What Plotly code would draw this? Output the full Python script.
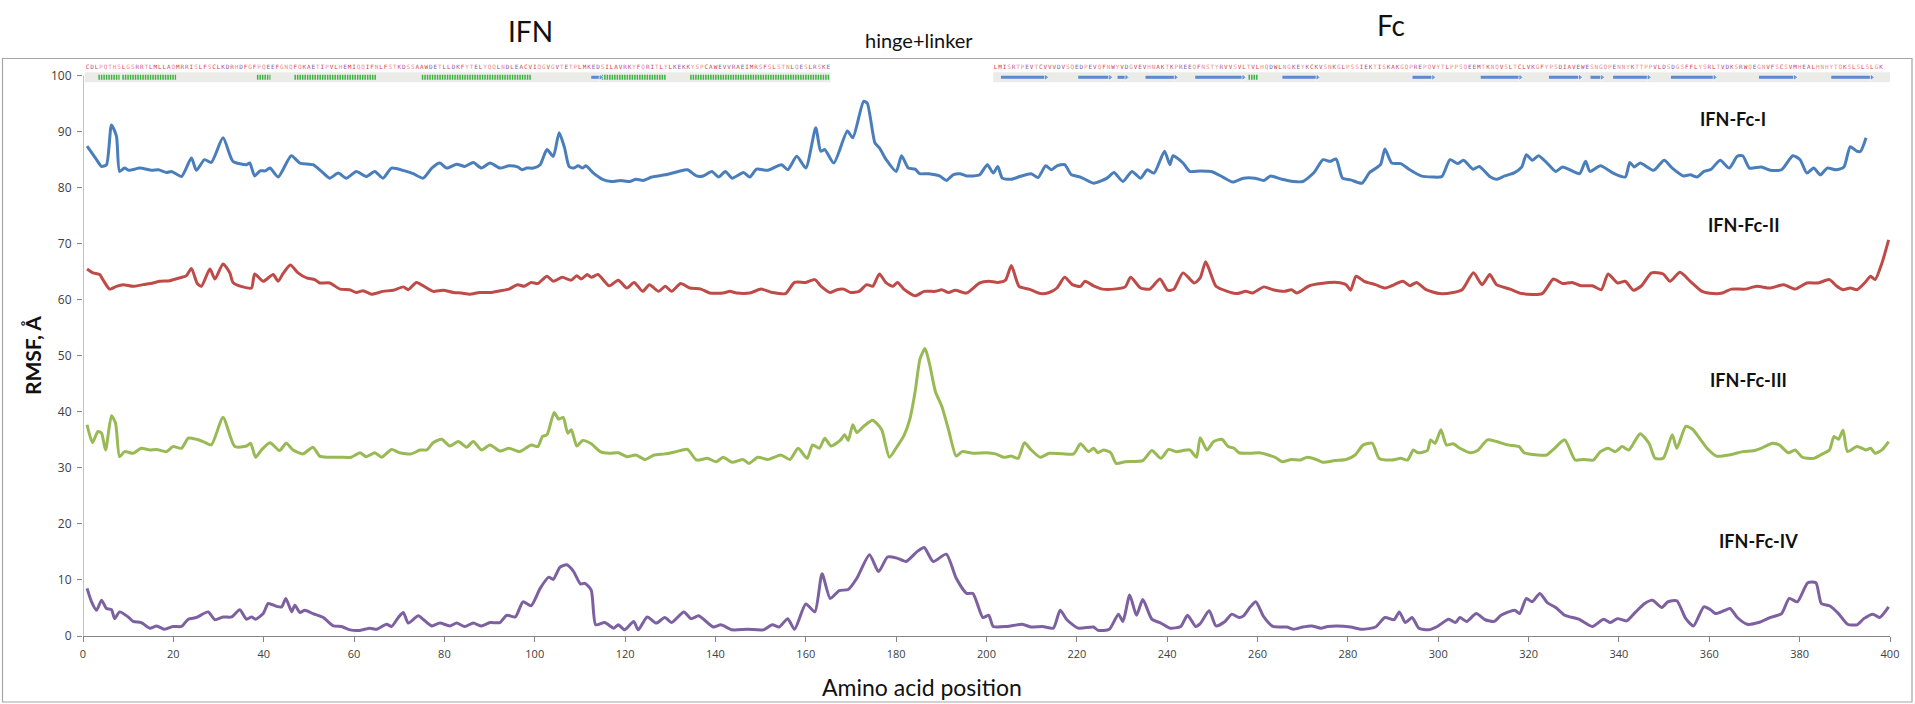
import plotly.graph_objects as go

# ---------------------------------------------------------------------------
# RMSF profiles (amino-acid position, RMSF in Å) for the four constructs.
# Each curve is offset vertically so the four traces can be stacked.
# ---------------------------------------------------------------------------
ifn_fc_i = [
    (0.9, 87.4), (3.0, 85.0), (4.1, 83.8), (5.2, 84.1), (6.3, 91.2), (7.4, 89.2), (8.1, 82.9),
    (9.2, 83.5), (10.2, 83.1), (12.6, 83.5), (15.2, 83.1), (16.7, 83.2), (18.5, 82.7), (19.6, 82.9),
    (21.8, 82.0), (24.0, 85.3), (25.1, 83.1), (26.9, 85.0), (28.4, 84.5), (31.0, 88.9), (33.2, 84.7),
    (36.2, 84.1), (36.9, 84.4), (38.0, 82.1), (39.2, 83.0), (40.3, 83.0), (41.4, 83.5), (43.2, 81.9),
    (46.1, 85.7), (48.0, 84.4), (50.9, 84.1), (52.8, 82.9), (54.6, 81.7), (56.5, 82.6), (58.3, 81.7),
    (60.5, 82.9), (62.7, 82.0), (64.6, 82.9), (66.4, 81.7), (68.3, 83.5), (71.2, 83.0), (73.1, 82.5),
    (75.3, 81.7), (77.2, 83.5), (79.0, 84.4), (80.5, 83.5), (82.7, 84.2), (84.5, 83.8), (86.4, 84.5),
    (88.2, 83.5), (90.1, 84.4), (92.3, 83.5), (94.3, 83.9), (96.2, 83.7), (97.2, 83.2), (98.2, 83.5),
    (99.7, 83.5), (101.2, 84.1), (102.7, 86.8), (104.1, 85.6), (105.4, 89.8), (106.6, 87.1),
    (107.6, 83.8), (108.6, 83.5), (109.6, 83.9), (110.6, 83.5), (111.3, 83.9), (113.0, 82.6),
    (115.0, 81.5), (117.0, 81.1), (119.0, 81.3), (121.0, 81.1), (122.4, 81.5), (124.0, 81.3),
    (125.9, 81.9), (128.9, 82.3), (131.8, 82.9), (133.8, 83.2), (135.8, 82.1), (137.3, 82.1),
    (139.2, 82.9), (140.7, 81.9), (142.2, 82.9), (143.7, 81.7), (146.2, 82.7), (147.6, 81.9),
    (149.1, 83.3), (151.6, 83.1), (154.6, 84.1), (156.0, 83.2), (158.0, 85.6), (160.0, 83.5),
    (162.2, 90.7), (163.3, 86.5), (164.2, 86.8), (166.2, 84.4), (169.2, 90.1), (170.4, 88.9),
    (172.8, 95.4), (173.6, 95.1), (175.3, 88.0), (176.3, 87.1), (177.8, 85.0), (180.0, 82.9),
    (181.2, 85.7), (182.7, 83.5), (184.2, 83.3), (185.2, 82.5), (187.2, 82.5), (189.6, 82.1),
    (191.1, 81.3), (192.6, 82.3), (194.1, 82.5), (195.6, 82.1), (197.0, 82.1), (198.5, 82.3),
    (200.2, 84.1), (201.5, 82.6), (202.5, 83.8), (203.5, 81.7), (205.5, 81.5), (207.4, 82.0),
    (209.9, 82.5), (211.4, 81.8), (213.1, 83.9), (214.4, 83.2), (215.6, 83.9), (217.3, 84.1),
    (218.8, 82.3), (220.8, 81.9), (223.7, 80.8), (226.7, 81.7), (228.2, 82.7), (230.2, 81.1),
    (232.2, 82.9), (234.1, 81.7), (235.6, 83.2), (237.1, 82.6), (239.4, 86.5), (240.6, 84.1),
    (241.3, 85.7), (243.5, 84.4), (245.0, 82.9), (247.3, 83.0), (249.8, 82.9), (252.3, 81.9),
    (254.5, 81.0), (256.9, 81.7), (259.4, 81.7), (261.4, 81.3), (262.9, 82.1), (265.4, 81.5),
    (268.0, 81.1), (270.0, 81.1), (272.5, 82.7), (274.5, 85.0), (276.0, 84.7), (277.4, 85.1),
    (278.8, 81.7), (280.6, 81.4), (283.1, 80.8), (284.8, 82.7), (287.2, 84.1), (288.2, 86.9),
    (289.7, 84.4), (291.7, 84.3), (293.7, 83.2), (296.2, 82.1), (298.8, 81.9), (300.8, 82.0),
    (302.6, 85.0), (304.3, 84.3), (305.6, 84.9), (307.7, 83.3), (309.1, 83.8), (311.4, 82.0),
    (312.9, 81.5), (314.7, 82.1), (316.9, 82.7), (318.5, 83.7), (319.5, 85.9), (320.8, 84.9),
    (322.2, 85.7), (324.2, 84.3), (326.0, 82.9), (327.5, 83.7), (329.1, 83.2), (331.3, 82.5),
    (332.6, 84.7), (333.6, 82.9), (335.9, 83.9), (338.7, 82.6), (341.4, 81.9), (342.4, 84.5),
    (343.4, 83.7), (344.7, 84.4), (347.7, 83.1), (350.0, 84.9), (351.8, 83.5), (354.3, 82.1),
    (355.8, 82.3), (357.3, 81.9), (358.8, 82.9), (360.4, 83.3), (362.4, 84.9), (364.4, 83.5),
    (366.2, 85.6), (367.4, 85.7), (368.9, 83.5), (371.5, 83.7), (373.5, 83.1), (376.0, 83.2),
    (378.5, 85.7), (380.1, 85.0), (381.6, 82.6), (383.1, 83.5), (384.6, 82.3), (386.1, 83.5),
    (388.1, 83.2), (389.8, 83.7), (391.2, 87.3), (392.7, 86.5), (393.5, 86.5), (394.7, 88.9),
]

ifn_fc_ii = [
    (0.9, 65.5), (2.2, 64.8), (3.7, 64.5), (4.4, 63.6), (5.9, 61.9), (7.4, 62.4), (8.9, 62.7),
    (11.1, 62.4), (13.3, 62.7), (15.5, 63.0), (17.0, 63.3), (19.2, 63.4), (21.4, 63.9), (22.9, 64.3),
    (24.0, 65.6), (25.3, 62.9), (26.2, 62.4), (28.1, 65.5), (29.2, 63.7), (31.0, 66.4), (32.5, 64.8),
    (33.2, 63.1), (35.4, 62.3), (37.3, 62.1), (38.0, 64.6), (39.9, 63.3), (42.1, 64.5), (43.2, 63.3),
    (44.3, 64.7), (45.9, 66.2), (47.6, 64.8), (49.5, 63.9), (51.3, 63.6), (52.4, 63.0), (54.6, 63.0),
    (56.9, 61.9), (59.0, 61.8), (60.5, 61.3), (62.0, 61.6), (63.9, 61.0), (66.4, 61.5), (68.7, 61.7),
    (70.9, 62.3), (72.0, 61.8), (73.8, 63.1), (76.1, 62.1), (77.5, 61.5), (79.7, 61.7), (82.0, 61.3),
    (83.8, 61.2), (85.6, 61.0), (87.8, 61.3), (90.1, 61.3), (92.3, 61.6), (94.3, 61.9), (96.2, 62.7),
    (97.7, 62.4), (99.2, 63.1), (100.7, 62.9), (102.7, 64.2), (104.1, 63.3), (106.1, 64.0),
    (108.1, 63.5), (109.3, 64.3), (110.3, 63.7), (111.6, 64.5), (112.5, 64.0), (114.0, 64.5),
    (116.5, 62.5), (118.5, 63.5), (120.4, 62.1), (122.0, 63.1), (123.9, 61.5), (125.4, 62.7),
    (127.4, 61.5), (128.9, 62.4), (130.3, 61.5), (132.3, 62.9), (134.3, 62.1), (136.8, 61.9),
    (138.7, 61.2), (141.7, 61.2), (143.2, 61.5), (144.7, 61.2), (147.6, 61.2), (150.1, 61.9),
    (152.6, 61.3), (155.5, 61.1), (157.5, 63.1), (160.0, 63.1), (162.0, 63.6), (163.4, 62.4),
    (165.4, 61.3), (166.9, 61.8), (168.4, 61.9), (169.9, 61.3), (171.8, 61.5), (173.5, 62.7),
    (174.8, 62.4), (176.3, 64.6), (177.8, 63.0), (179.3, 62.4), (180.3, 63.1), (181.7, 61.9),
    (184.2, 60.7), (186.2, 61.5), (188.7, 61.5), (190.1, 61.8), (191.6, 61.3), (193.1, 61.7),
    (195.6, 61.2), (198.5, 63.0), (200.5, 63.3), (202.5, 63.1), (204.2, 63.5), (205.5, 66.1),
    (207.2, 62.4), (209.4, 61.9), (211.9, 61.1), (213.9, 61.3), (215.6, 62.1), (217.3, 64.0),
    (219.0, 62.7), (220.8, 62.4), (221.8, 63.3), (223.7, 62.5), (225.7, 61.9), (228.2, 61.9),
    (230.7, 62.3), (231.9, 64.0), (234.1, 62.1), (236.1, 61.9), (238.4, 63.7), (240.1, 61.7),
    (241.5, 61.9), (243.5, 64.8), (246.0, 63.0), (247.3, 63.9), (248.5, 66.8), (249.3, 65.4),
    (250.8, 62.4), (253.3, 61.5), (255.4, 61.1), (257.4, 61.5), (258.9, 61.2), (261.4, 62.3),
    (263.4, 61.8), (266.0, 61.5), (267.5, 61.8), (268.7, 61.2), (271.5, 62.5), (274.0, 62.9),
    (277.6, 63.1), (279.6, 62.7), (280.6, 61.7), (281.8, 64.2), (283.6, 63.3), (286.1, 62.7),
    (288.2, 62.1), (289.7, 62.5), (292.2, 63.3), (293.7, 62.5), (295.2, 63.1), (297.3, 61.8),
    (300.3, 61.1), (303.3, 61.3), (305.3, 61.8), (307.8, 64.8), (309.7, 62.7), (311.4, 64.5),
    (312.9, 62.7), (315.9, 61.9), (318.5, 61.1), (323.0, 61.1), (325.5, 63.7), (327.5, 62.9),
    (329.6, 63.1), (331.6, 62.5), (334.1, 62.5), (336.1, 61.8), (337.6, 64.6), (339.7, 63.0),
    (341.4, 63.3), (343.2, 61.7), (345.0, 62.5), (347.2, 64.8), (349.8, 64.6), (351.3, 63.3),
    (353.5, 64.9), (355.8, 63.3), (358.4, 61.5), (360.9, 61.1), (362.9, 61.2), (364.9, 61.9),
    (367.9, 61.9), (370.5, 62.4), (373.5, 62.1), (376.5, 62.7), (379.0, 61.9), (381.6, 63.0),
    (384.1, 63.0), (386.6, 63.6), (388.1, 62.5), (389.6, 61.8), (391.2, 62.1), (392.7, 61.8),
    (394.7, 63.3), (395.7, 64.2), (396.7, 63.6), (398.2, 66.5), (399.7, 70.7),
]

ifn_fc_iii = [
    (0.9, 37.7), (2.1, 34.5), (3.3, 36.5), (4.1, 36.2), (5.0, 33.2), (6.3, 39.3), (7.2, 38.0),
    (8.1, 32.0), (9.2, 32.9), (11.1, 32.6), (12.9, 33.5), (14.8, 33.2), (16.3, 33.3), (18.5, 32.9),
    (19.9, 33.8), (21.8, 33.5), (23.3, 35.3), (25.1, 35.1), (26.6, 34.7), (28.4, 34.1), (31.0, 39.0),
    (33.6, 33.8), (36.2, 33.9), (37.1, 34.4), (38.2, 31.9), (39.5, 33.2), (41.4, 34.5), (43.5, 33.1),
    (45.0, 34.4), (46.5, 33.2), (48.7, 32.5), (50.9, 33.7), (52.4, 32.1), (54.2, 31.9), (56.9, 31.9),
    (59.4, 31.9), (61.3, 32.7), (62.7, 32.0), (64.6, 32.7), (66.1, 31.9), (68.3, 33.3), (70.1, 32.7),
    (72.7, 32.5), (74.6, 33.2), (76.1, 33.2), (77.5, 34.5), (79.4, 35.1), (81.2, 33.9), (83.1, 34.7),
    (84.9, 33.7), (86.4, 34.7), (88.2, 33.2), (90.1, 34.1), (92.3, 33.0), (94.3, 33.5), (96.7, 32.9),
    (99.2, 34.1), (100.7, 33.8), (101.7, 35.6), (102.7, 35.9), (104.3, 39.9), (105.3, 38.7),
    (106.3, 39.0), (107.3, 36.2), (108.1, 36.8), (109.3, 33.9), (110.6, 34.9), (112.5, 34.3),
    (114.5, 32.9), (116.5, 32.6), (118.5, 32.7), (120.4, 32.0), (122.4, 32.3), (124.4, 31.5),
    (126.4, 32.3), (128.8, 32.5), (131.3, 32.9), (133.8, 33.3), (135.8, 31.4), (138.2, 31.7),
    (140.2, 31.1), (141.7, 31.9), (143.7, 31.0), (146.1, 31.5), (147.4, 30.8), (149.4, 31.9),
    (151.6, 31.5), (154.5, 32.3), (156.5, 31.5), (158.3, 33.5), (160.3, 31.7), (161.5, 34.1),
    (163.0, 33.5), (164.2, 35.3), (165.6, 33.9), (167.6, 34.9), (168.6, 35.9), (169.4, 34.9),
    (170.4, 37.7), (171.3, 36.3), (172.8, 37.4), (174.8, 38.5), (176.8, 36.8), (178.5, 31.9),
    (180.2, 33.8), (181.7, 35.7), (183.0, 38.6), (184.2, 43.6), (185.3, 49.5), (186.4, 51.3),
    (187.4, 48.5), (188.7, 43.6), (190.1, 41.0), (191.6, 36.8), (193.3, 32.1), (194.6, 32.9),
    (197.0, 32.6), (200.0, 32.7), (202.0, 32.5), (203.8, 31.9), (205.5, 32.1), (207.0, 31.7),
    (208.4, 34.5), (209.9, 33.2), (211.9, 31.9), (213.9, 32.6), (216.8, 32.5), (219.3, 32.5),
    (220.8, 34.3), (222.6, 32.9), (223.7, 33.5), (224.7, 32.7), (225.9, 33.2), (227.5, 32.7),
    (228.7, 30.8), (230.7, 31.1), (234.6, 31.3), (236.6, 33.1), (238.6, 31.7), (240.3, 33.3),
    (242.0, 32.9), (243.5, 33.1), (245.0, 33.2), (246.5, 31.9), (247.3, 35.4), (248.8, 33.2),
    (250.3, 34.7), (252.1, 35.1), (253.5, 33.8), (254.8, 33.5), (255.9, 32.7), (258.4, 32.6),
    (260.4, 32.7), (262.4, 32.3), (263.9, 31.9), (265.4, 31.1), (267.5, 31.5), (269.5, 31.4),
    (271.0, 31.9), (273.0, 31.5), (274.5, 31.0), (277.1, 31.3), (279.6, 31.5), (281.6, 32.3),
    (283.4, 34.1), (285.4, 34.4), (286.9, 31.7), (289.7, 31.4), (291.7, 31.7), (293.2, 31.4),
    (294.5, 33.2), (295.5, 32.7), (297.6, 33.1), (298.3, 35.0), (299.3, 34.4), (300.6, 36.8),
    (301.8, 34.1), (303.3, 34.3), (304.8, 33.5), (307.1, 32.7), (308.7, 33.1), (310.9, 35.0),
    (312.9, 34.7), (315.4, 34.1), (317.9, 33.8), (319.0, 32.7), (322.0, 32.3), (324.0, 32.3),
    (325.5, 33.3), (328.0, 35.0), (330.3, 31.4), (332.1, 31.5), (334.3, 31.4), (335.9, 32.9),
    (337.6, 33.5), (339.2, 32.9), (340.7, 33.8), (342.2, 33.2), (344.7, 36.1), (346.7, 34.3),
    (348.0, 31.7), (349.8, 31.7), (351.8, 35.9), (352.8, 33.5), (354.8, 37.4), (356.3, 36.9),
    (358.1, 35.0), (359.5, 33.5), (361.6, 32.1), (364.4, 32.3), (367.4, 32.9), (370.0, 33.1),
    (372.0, 33.7), (374.0, 34.4), (375.5, 34.1), (377.5, 32.7), (379.0, 33.2), (380.6, 31.9),
    (383.1, 31.7), (385.1, 32.5), (386.6, 33.2), (387.6, 35.6), (388.6, 35.1), (389.6, 36.7),
    (390.6, 32.9), (392.7, 33.8), (394.7, 33.2), (395.7, 33.5), (396.7, 32.6), (398.2, 33.2),
    (399.7, 34.7),
]

ifn_fc_iv = [
    (0.9, 8.5), (1.9, 6.1), (3.0, 4.6), (4.1, 6.4), (5.2, 4.9), (6.3, 4.7), (7.0, 3.1), (8.1, 4.3),
    (10.0, 3.4), (11.1, 2.6), (12.9, 2.4), (14.8, 1.4), (16.3, 1.8), (18.1, 1.2), (19.9, 1.7),
    (21.8, 1.7), (23.3, 3.0), (25.1, 3.3), (27.7, 4.3), (29.2, 2.9), (31.0, 3.4), (32.9, 3.4),
    (34.7, 4.7), (36.2, 3.0), (37.3, 3.4), (38.2, 3.0), (39.9, 4.0), (41.0, 5.8), (42.8, 5.3),
    (44.0, 5.2), (44.9, 6.7), (46.2, 4.3), (46.9, 5.5), (48.0, 4.2), (49.1, 4.6), (50.9, 4.0),
    (53.2, 3.3), (55.4, 1.8), (57.2, 1.7), (59.1, 1.1), (61.3, 1.0), (63.5, 1.4), (65.0, 1.2),
    (67.2, 2.1), (68.3, 1.7), (69.8, 3.3), (70.9, 4.2), (72.0, 2.3), (74.2, 3.6), (75.4, 2.9),
    (77.2, 1.8), (79.0, 2.3), (81.2, 1.8), (82.7, 2.3), (84.5, 1.7), (86.4, 2.3), (88.2, 1.8),
    (90.1, 2.4), (92.3, 2.4), (93.8, 3.7), (95.7, 3.4), (97.4, 6.1), (99.2, 5.4), (101.2, 8.5),
    (103.1, 10.5), (104.1, 10.1), (105.6, 12.3), (107.1, 12.7), (108.6, 11.5), (110.1, 9.3),
    (111.1, 9.4), (112.5, 8.2), (113.5, 2.0), (115.5, 2.4), (117.5, 1.4), (118.5, 2.0), (119.9, 1.1),
    (121.9, 2.6), (122.9, 1.1), (124.9, 3.4), (126.9, 2.3), (128.8, 3.3), (130.3, 2.4), (133.0, 4.3),
    (134.6, 3.1), (136.3, 3.6), (139.5, 1.6), (141.2, 2.0), (143.7, 1.1), (147.1, 1.2), (150.6, 1.1),
    (152.6, 2.0), (154.1, 1.6), (156.0, 3.1), (157.5, 1.2), (160.0, 5.7), (162.0, 4.3), (163.6, 11.1),
    (165.4, 6.7), (167.4, 8.1), (169.4, 8.3), (171.3, 10.3), (174.1, 14.5), (176.1, 11.5),
    (178.1, 14.1), (180.2, 13.9), (182.2, 13.3), (184.7, 15.1), (186.2, 15.8), (188.2, 13.3),
    (191.1, 14.6), (193.3, 10.3), (195.6, 7.6), (197.0, 7.6), (199.2, 3.3), (200.5, 3.7),
    (201.5, 1.7), (204.5, 1.7), (207.9, 2.1), (209.9, 1.6), (212.4, 1.7), (214.8, 1.4), (216.3, 4.6),
    (217.8, 2.9), (220.3, 1.4), (223.7, 1.6), (224.7, 1.0), (227.2, 1.2), (229.2, 3.9), (230.2, 2.6),
    (231.7, 7.3), (233.2, 3.7), (234.6, 6.5), (236.6, 3.0), (238.6, 2.3), (240.6, 1.4), (243.0, 1.7),
    (244.5, 3.7), (246.3, 1.7), (247.3, 2.2), (249.3, 4.5), (250.8, 1.8), (252.8, 2.6), (254.3, 3.9),
    (255.9, 3.3), (256.9, 3.6), (258.4, 5.2), (259.6, 6.1), (261.4, 3.4), (263.4, 1.7), (266.5, 1.6),
    (268.0, 1.2), (270.0, 1.6), (272.0, 1.8), (274.0, 1.4), (275.5, 1.7), (277.6, 1.8), (280.6, 1.6),
    (283.1, 1.2), (286.1, 1.6), (288.2, 3.3), (290.2, 2.9), (291.4, 4.3), (292.7, 2.4), (294.2, 3.3),
    (295.7, 1.4), (297.8, 1.1), (299.8, 1.7), (302.3, 3.0), (303.8, 2.4), (304.8, 3.3), (306.3, 2.6),
    (308.4, 4.0), (310.4, 2.9), (312.4, 2.6), (313.9, 3.7), (316.9, 4.6), (318.0, 4.0), (319.5, 6.7),
    (320.8, 6.1), (322.5, 7.6), (324.2, 5.9), (326.0, 5.1), (328.0, 3.7), (331.1, 3.0), (334.1, 1.7),
    (336.6, 3.0), (338.1, 2.4), (339.7, 3.1), (341.7, 2.7), (343.7, 4.3), (345.7, 5.8), (347.4, 6.4),
    (349.5, 5.1), (350.8, 6.1), (352.8, 6.3), (354.8, 3.1), (356.5, 1.8), (358.8, 5.2), (360.4, 4.6),
    (361.4, 4.0), (363.2, 4.5), (364.6, 4.9), (366.2, 3.3), (368.4, 2.1), (370.9, 2.4), (373.5, 3.3),
    (376.0, 4.0), (377.7, 6.7), (379.5, 6.1), (381.8, 9.5), (383.6, 9.5), (384.8, 5.8), (386.6, 5.4),
    (388.6, 4.0), (390.6, 2.1), (392.7, 2.0), (394.2, 3.1), (396.2, 3.9), (397.7, 3.3), (399.7, 5.2),
]

series_names = ["IFN-Fc-I", "IFN-Fc-II", "IFN-Fc-III", "IFN-Fc-IV"]
series_colors = ["#4a7ebb", "#be4b48", "#98b954", "#7d60a0"]
# label anchor (position, RMSF) for each curve's name
label_pos = [365.2, 367.5, 368.7, 371.0]
label_rmsf = [92.3, 73.3, 45.7, 17.0]

# ---------------------------------------------------------------------------
# Sequence / secondary-structure strip drawn along the top of the plot
# ---------------------------------------------------------------------------
ifn_sequence = ("CDLPQTHSLGSRRTLMLLAQMRRISLFSCLKDRHDFGFPQEEFGNQFQKAETIPVLHEMIQQIFNLFSTKDSS"
                "AAWDETLLDKFYTELYQQLNDLEACVIQGVGVTETPLMKEDSILAVRKYFQRITLYLKEKKYSPCAWEVVRAEI"
                "MRSFSLSTNLQESLRSKE")
ifn_seq_start = 1
fc_sequence = ("LMISRTPEVTCVVVDVSQEDPEVQFNWYVDGVEVHNAKTKPREEQFNSTYRVVSVLTVLHQDWLNGKEYKCKVS"
               "NKGLPSSIEKTISKAKGQPREPQVYTLPPSQEEMTKNQVSLTCLVKGFYPSDIAVEWESNGQPENNYKTTPPVL"
               "DSDGSFFLYSRLTVDKSRWQEGNVFSCSVMHEALHNHYTQKSLSLSLGK")
fc_seq_start = 202

strip_bands = [(0.4, 165.5), (201.5, 400.0)]
helices = [(3.4, 8.1), (8.7, 20.6), (38.5, 41.5), (46.8, 64.9), (75.0, 99.2),
           (114.8, 129.0), (134.4, 165.3), (258.0, 260.2)]
strands = [(112.5, 114.6), (203.2, 213.2), (220.3, 227.4), (229.0, 231.0), (235.2, 241.9),
           (246.2, 256.9), (265.5, 273.3), (294.3, 298.9), (309.4, 318.2), (324.5, 331.4),
           (333.7, 336.3), (338.7, 346.6), (351.5, 361.2), (371.0, 379.0), (387.0, 396.0)]

domain_labels = ["IFN", "hinge+linker", "Fc"]
domain_label_pos = [99.0, 185.0, 289.6]
domain_label_size = [28, 20, 28]
domain_label_ypx = [31, 40, 25]

x_ticks = list(range(0, 401, 20))
y_ticks = list(range(0, 101, 10))

# ---------------------------------------------------------------------------
W, H = 1915, 704
M_L, M_R, M_T, M_B = 83, 25, 56, 68
Y_MAX = 103.5
plot_w = W - M_L - M_R
plot_h = H - M_T - M_B


def paper_x(px):
    return (px - M_L) / plot_w


def paper_y(py):
    return (H - M_B - py) / plot_h


RESIDUE_COLORS = {}
for aa in "AVILMFWC":
    RESIDUE_COLORS[aa] = "#d8404a"
for aa in "STNQGPYH":
    RESIDUE_COLORS[aa] = "#ee8c8c"
for aa in "KR":
    RESIDUE_COLORS[aa] = "#c0508a"
for aa in "DE":
    RESIDUE_COLORS[aa] = "#7b5bb5"

fig = go.Figure()

# RMSF curves
for name, color, data in zip(series_names, series_colors,
                             [ifn_fc_i, ifn_fc_ii, ifn_fc_iii, ifn_fc_iv]):
    xs = [p for p, _ in data]
    ys = [v for _, v in data]
    fig.add_trace(go.Scatter(
        x=xs, y=ys, mode="lines", name=name,
        line=dict(color=color, width=3, shape="spline", smoothing=0.6),
        hoverinfo="x+y+name",
    ))

# gray bands behind the secondary-structure row
for x0, x1 in strip_bands:
    fig.add_shape(type="rect", xref="x", yref="y", x0=x0, x1=x1, y0=98.8, y1=100.6,
                  fillcolor="#ebebe8", line=dict(width=0), layer="below")

# helices: green hatched segments
for x0, x1 in helices:
    fig.add_trace(go.Scatter(
        x=[x0, x1], y=[99.7, 99.7], mode="lines", showlegend=False, hoverinfo="skip",
        line=dict(color="#3fb13f", width=5, dash="1.5px,1px"),
    ))

# strands: blue arrows
for x0, x1 in strands:
    fig.add_trace(go.Scatter(
        x=[x0, x1], y=[99.7, 99.7], mode="lines+markers", showlegend=False, hoverinfo="skip",
        line=dict(color="#5a8ad0", width=3),
        marker=dict(symbol="triangle-right", size=[0, 6], color="#5a8ad0"),
    ))

# residue letters
for seq, start in [(ifn_sequence, ifn_seq_start), (fc_sequence, fc_seq_start)]:
    letters = list(seq)
    fig.add_trace(go.Scatter(
        x=[start + i for i in range(len(letters))],
        y=[101.5] * len(letters),
        mode="text", text=letters, showlegend=False, hoverinfo="skip",
        textfont=dict(family="DejaVu Sans Mono", size=6,
                      color=[RESIDUE_COLORS.get(a, "#e07070") for a in letters]),
        cliponaxis=False,
    ))

# y-axis line stops at 100
fig.add_shape(type="line", xref="x", yref="y", x0=0, x1=0, y0=0, y1=100,
              line=dict(color="#868686", width=1))

# outer chart frame
fig.add_shape(type="rect", xref="paper", yref="paper",
              x0=paper_x(2.5), x1=paper_x(1912), y0=paper_y(702), y1=paper_y(58.5),
              line=dict(color="#a6a6a6", width=1.2), fillcolor="rgba(0,0,0,0)", layer="below")

annotations = []
for name, px_, vy in zip(series_names, label_pos, label_rmsf):
    annotations.append(dict(x=px_, y=vy, xref="x", yref="y", text=f"<b>{name}</b>",
                            xanchor="center", yanchor="middle", showarrow=False,
                            font=dict(family="Lato", size=18, color="#111111")))

for txt, px_, size, ypx in zip(domain_labels, domain_label_pos, domain_label_size, domain_label_ypx):
    annotations.append(dict(x=px_, y=paper_y(ypx), xref="x", yref="paper", text=txt,
                            xanchor="center", yanchor="middle", showarrow=False,
                            font=dict(family="Lato", size=size, color="#111111")))

annotations.append(dict(x=paper_x(922), y=paper_y(687), xref="paper", yref="paper",
                        text="Amino acid position", xanchor="center", yanchor="middle",
                        showarrow=False,
                        font=dict(family="Lato", size=23, color="#111111")))
annotations.append(dict(x=paper_x(33), y=paper_y(356), xref="paper", yref="paper",
                        text="<b>RMSF, Å</b>", xanchor="center", yanchor="middle",
                        showarrow=False, textangle=-90,
                        font=dict(family="Lato", size=21, color="#111111")))

fig.update_layout(
    width=W, height=H,
    margin=dict(l=M_L, r=M_R, t=M_T, b=M_B, pad=0),
    paper_bgcolor="white", plot_bgcolor="white",
    showlegend=False,
    annotations=annotations,
    xaxis=dict(range=[0, 400], tickvals=x_ticks, ticks="outside", ticklen=5,
               tickcolor="#868686", showline=True, linecolor="#868686", linewidth=1,
               showgrid=False, zeroline=False, ticklabelstandoff=3,
               tickfont=dict(family="Open Sans", size=11, color="#404040")),
    yaxis=dict(range=[0, Y_MAX], tickvals=y_ticks, ticks="outside", ticklen=5,
               tickcolor="#868686", showline=False, showgrid=False, zeroline=False,
               ticklabelstandoff=3,
               tickfont=dict(family="Open Sans", size=12, color="#404040")),
)

fig.write_html("out.html")
